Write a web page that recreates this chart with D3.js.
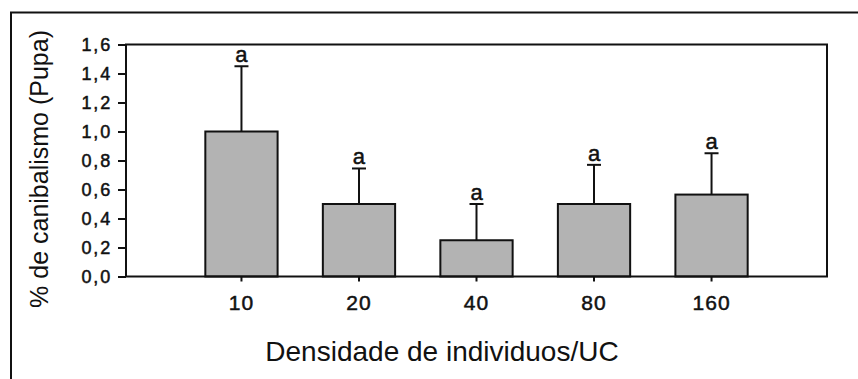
<!DOCTYPE html>
<html>
<head>
<meta charset="utf-8">
<script src="https://cdn.jsdelivr.net/npm/d3@7"></script>
<style>
  body { margin: 0; background: #fff; }
  text { font-family: "Liberation Sans", Arial, sans-serif; fill: #111; }
</style>
</head>
<body>
<div id="chart"></div>
<script>
// Data
const densities = ["10", "20", "40", "80", "160"];
const means = [1.0, 0.5, 0.25, 0.5, 0.565];
const errors = [0.45, 0.245, 0.25, 0.27, 0.285];
const letters = ["a", "a", "a", "a", "a"];
const yTicks = [0, 0.2, 0.4, 0.6, 0.8, 1.0, 1.2, 1.4, 1.6];

const width = 858, height = 379;
const plot = { left: 126, right: 827, top: 44.5, bottom: 276.5 };

const svg = d3.select("#chart")
  .append("svg")
  .attr("width", width)
  .attr("height", height);

// outer frame of the scanned figure
svg.append("path")
  .attr("d", `M11,${height} L11,12.5 L${width},12.5`)
  .attr("fill", "none")
  .attr("stroke", "#111")
  .attr("stroke-width", 2);

const x = d3.scaleBand()
  .domain(densities)
  .range([plot.left, plot.right])
  .paddingInner(0.385)
  .paddingOuter(0.675);

const y = d3.scaleLinear()
  .domain([0, 1.6])
  .range([plot.bottom, plot.top]);

const fmt = d => d3.format(".1f")(d).replace(".", ",");

// bars
const bars = svg.append("g");
bars.selectAll("rect")
  .data(densities)
  .join("rect")
  .attr("x", d => x(d))
  .attr("y", (d, i) => y(means[i]))
  .attr("width", x.bandwidth())
  .attr("height", (d, i) => y(0) - y(means[i]))
  .attr("fill", "#b3b3b3")
  .attr("stroke", "#111")
  .attr("stroke-width", 2);

// error bars (upper only) + letters
const err = svg.append("g").attr("stroke", "#111").attr("stroke-width", 2);
densities.forEach((d, i) => {
  const cx = x(d) + x.bandwidth() / 2;
  const top = y(means[i] + errors[i]);
  err.append("line")
    .attr("x1", cx).attr("x2", cx)
    .attr("y1", y(means[i])).attr("y2", top);
  err.append("line")
    .attr("x1", cx - 7).attr("x2", cx + 7)
    .attr("y1", top).attr("y2", top);
  svg.append("text")
    .attr("x", cx)
    .attr("y", top - 4)
    .attr("text-anchor", "middle")
    .attr("font-size", 22)
    .attr("stroke", "#111")
    .attr("stroke-width", 0.5)
    .text(letters[i]);
});

// plot box
svg.append("rect")
  .attr("x", plot.left)
  .attr("y", plot.top)
  .attr("width", plot.right - plot.left)
  .attr("height", plot.bottom - plot.top)
  .attr("fill", "none")
  .attr("stroke", "#111")
  .attr("stroke-width", 2);

// y axis
const yAxis = svg.append("g")
  .attr("transform", `translate(${plot.left},0)`)
  .call(d3.axisLeft(y).tickValues(yTicks).tickFormat(fmt).tickSize(8).tickPadding(6));
yAxis.select(".domain").remove();
yAxis.selectAll(".tick line").attr("stroke", "#111").attr("stroke-width", 2);
yAxis.selectAll(".tick text")
  .attr("font-size", 18)
  .attr("letter-spacing", 1.8)
  .attr("font-family", "Liberation Sans, Arial, sans-serif")
  .attr("fill", "#111")
  .attr("stroke", "#111")
  .attr("stroke-width", 0.5);

// x axis
const xAxis = svg.append("g")
  .attr("transform", `translate(0,${plot.bottom})`)
  .call(d3.axisBottom(x).tickSize(5).tickPadding(14));
xAxis.select(".domain").remove();
xAxis.selectAll(".tick line").attr("stroke", "#111").attr("stroke-width", 2);
xAxis.selectAll(".tick text")
  .attr("font-size", 21)
  .attr("letter-spacing", 1)
  .attr("font-family", "Liberation Sans, Arial, sans-serif")
  .attr("fill", "#111")
  .attr("stroke", "#111")
  .attr("stroke-width", 0.5);

// axis titles
svg.append("text")
  .attr("transform", "translate(48,169) rotate(-90)")
  .attr("text-anchor", "middle")
  .attr("font-size", 25)
  .text("% de canibalismo (Pupa)");

svg.append("text")
  .attr("x", 442)
  .attr("y", 361)
  .attr("text-anchor", "middle")
  .attr("font-size", 28)
  .text("Densidade de individuos/UC");
</script>
</body>
</html>
